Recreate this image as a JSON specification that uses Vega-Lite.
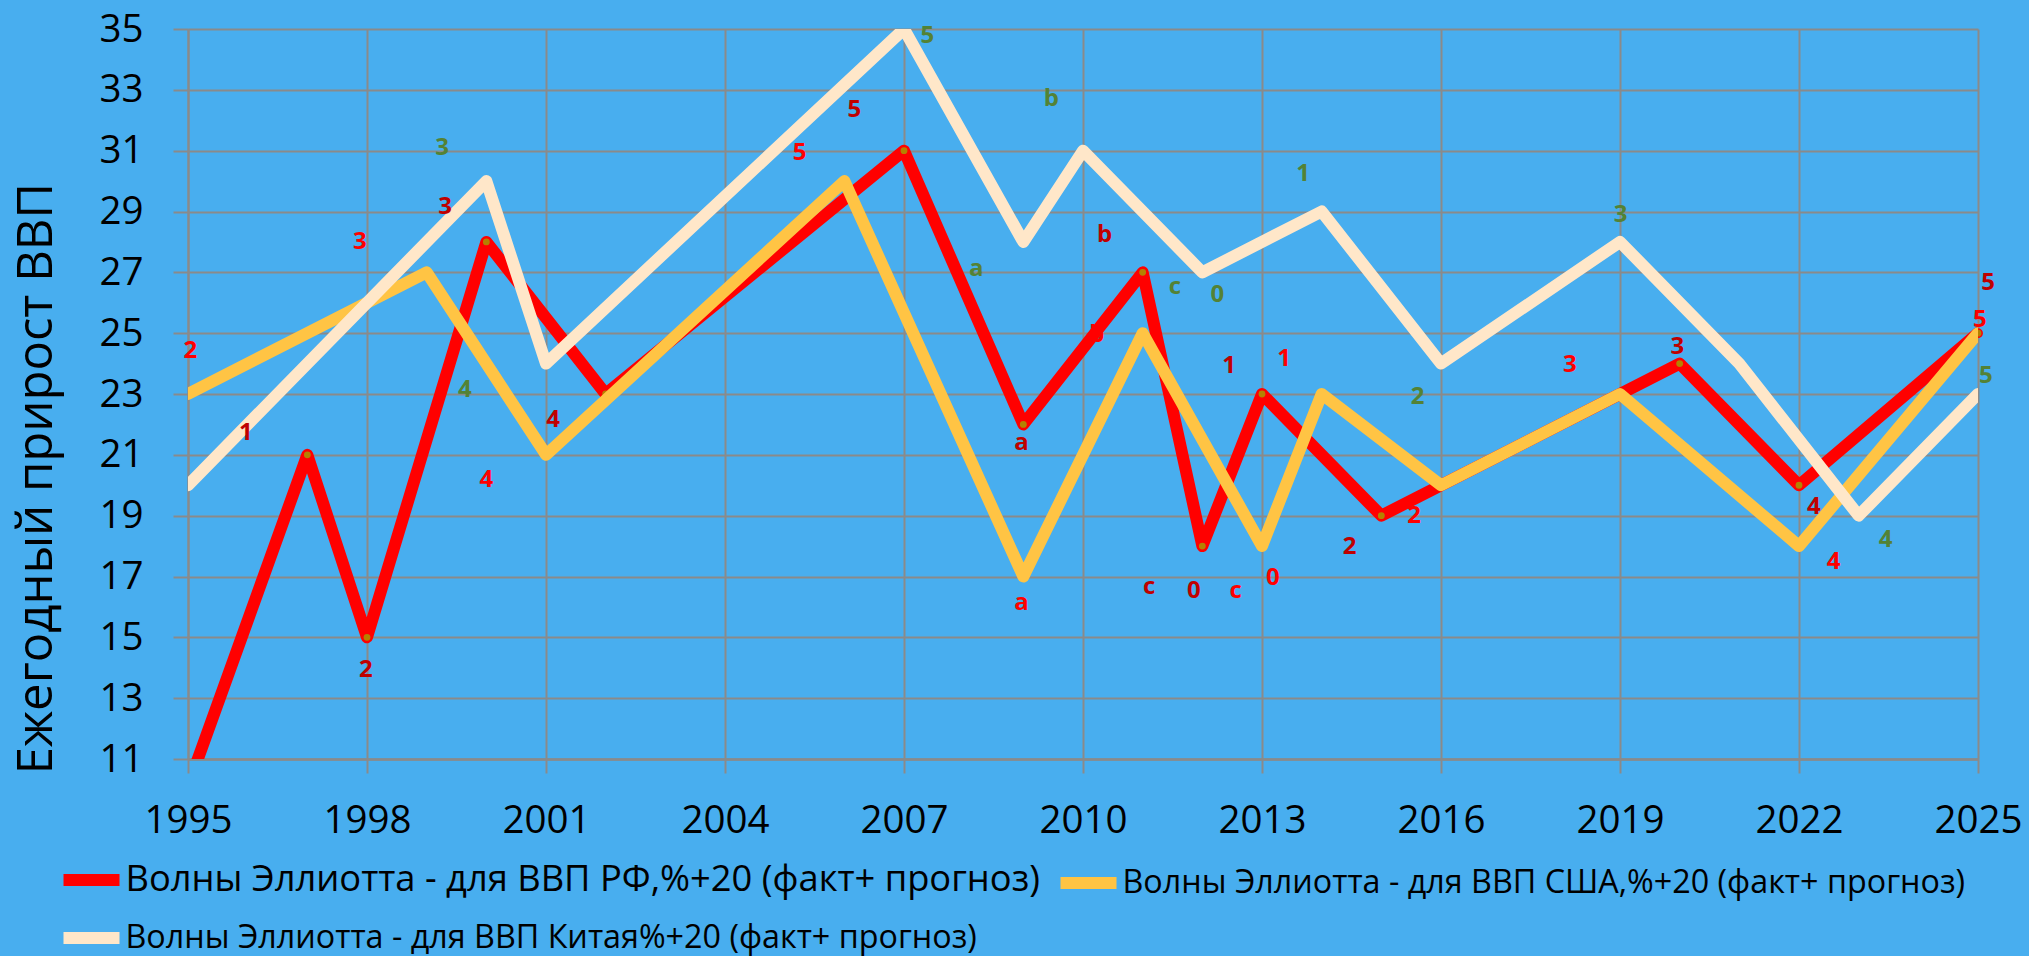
{
  "$schema": "https://vega.github.io/schema/vega-lite/v6.json",
  "width": 1790,
  "height": 730,
  "autosize": {"type": "none"},
  "padding": {"left": 188, "top": 29, "right": 51, "bottom": 197},
  "background": "#48AEEF",
  "config": {
    "view": {"stroke": null},
    "axis": {
      "domainColor": "#8A8A8A", "domainWidth": 2,
      "gridColor": "#8A8A8A", "gridWidth": 2,
      "tickColor": "#8A8A8A", "tickWidth": 2,
      "labelColor": "#000000", "titleColor": "#000000",
      "labelFont": "Open Sans", "titleFont": "Open Sans"
    },
    "legend": {
      "title": null, "orient": "none", "symbolType": "stroke",
      "symbolStrokeWidth": 12, "symbolSize": 3136,
      "labelFont": "Open Sans", "labelColor": "#000000",
      "labelLimit": 2000, "labelOffset": 0, "padding": 0
    }
  },
  "resolve": {"scale": {"color": "independent"}, "legend": {"color": "independent"}},
  "datasets": {
    "lines": [
      {"s": "Волны Эллиотта - для ВВП РФ,%+20 (факт+ прогноз)", "year": 1995, "value": 10.1},
      {"s": "Волны Эллиотта - для ВВП РФ,%+20 (факт+ прогноз)", "year": 1997, "value": 21},
      {"s": "Волны Эллиотта - для ВВП РФ,%+20 (факт+ прогноз)", "year": 1998, "value": 15},
      {"s": "Волны Эллиотта - для ВВП РФ,%+20 (факт+ прогноз)", "year": 2000, "value": 28},
      {"s": "Волны Эллиотта - для ВВП РФ,%+20 (факт+ прогноз)", "year": 2002, "value": 23},
      {"s": "Волны Эллиотта - для ВВП РФ,%+20 (факт+ прогноз)", "year": 2007, "value": 31},
      {"s": "Волны Эллиотта - для ВВП РФ,%+20 (факт+ прогноз)", "year": 2009, "value": 22},
      {"s": "Волны Эллиотта - для ВВП РФ,%+20 (факт+ прогноз)", "year": 2011, "value": 27},
      {"s": "Волны Эллиотта - для ВВП РФ,%+20 (факт+ прогноз)", "year": 2012, "value": 18},
      {"s": "Волны Эллиотта - для ВВП РФ,%+20 (факт+ прогноз)", "year": 2013, "value": 23},
      {"s": "Волны Эллиотта - для ВВП РФ,%+20 (факт+ прогноз)", "year": 2015, "value": 19},
      {"s": "Волны Эллиотта - для ВВП РФ,%+20 (факт+ прогноз)", "year": 2020, "value": 24},
      {"s": "Волны Эллиотта - для ВВП РФ,%+20 (факт+ прогноз)", "year": 2022, "value": 20},
      {"s": "Волны Эллиотта - для ВВП РФ,%+20 (факт+ прогноз)", "year": 2025, "value": 25},
      {"s": "Волны Эллиотта - для ВВП США,%+20 (факт+ прогноз)", "year": 1995, "value": 23},
      {"s": "Волны Эллиотта - для ВВП США,%+20 (факт+ прогноз)", "year": 1999, "value": 27},
      {"s": "Волны Эллиотта - для ВВП США,%+20 (факт+ прогноз)", "year": 2001, "value": 21},
      {"s": "Волны Эллиотта - для ВВП США,%+20 (факт+ прогноз)", "year": 2006, "value": 30},
      {"s": "Волны Эллиотта - для ВВП США,%+20 (факт+ прогноз)", "year": 2009, "value": 17},
      {"s": "Волны Эллиотта - для ВВП США,%+20 (факт+ прогноз)", "year": 2011, "value": 25},
      {"s": "Волны Эллиотта - для ВВП США,%+20 (факт+ прогноз)", "year": 2013, "value": 18},
      {"s": "Волны Эллиотта - для ВВП США,%+20 (факт+ прогноз)", "year": 2014, "value": 23},
      {"s": "Волны Эллиотта - для ВВП США,%+20 (факт+ прогноз)", "year": 2016, "value": 20},
      {"s": "Волны Эллиотта - для ВВП США,%+20 (факт+ прогноз)", "year": 2019, "value": 23},
      {"s": "Волны Эллиотта - для ВВП США,%+20 (факт+ прогноз)", "year": 2022, "value": 18},
      {"s": "Волны Эллиотта - для ВВП США,%+20 (факт+ прогноз)", "year": 2025, "value": 25},
      {"s": "Волны Эллиотта - для ВВП Китая%+20 (факт+ прогноз)", "year": 1995, "value": 20},
      {"s": "Волны Эллиотта - для ВВП Китая%+20 (факт+ прогноз)", "year": 2000, "value": 30},
      {"s": "Волны Эллиотта - для ВВП Китая%+20 (факт+ прогноз)", "year": 2001, "value": 24},
      {"s": "Волны Эллиотта - для ВВП Китая%+20 (факт+ прогноз)", "year": 2007, "value": 35},
      {"s": "Волны Эллиотта - для ВВП Китая%+20 (факт+ прогноз)", "year": 2009, "value": 28},
      {"s": "Волны Эллиотта - для ВВП Китая%+20 (факт+ прогноз)", "year": 2010, "value": 31},
      {"s": "Волны Эллиотта - для ВВП Китая%+20 (факт+ прогноз)", "year": 2012, "value": 27},
      {"s": "Волны Эллиотта - для ВВП Китая%+20 (факт+ прогноз)", "year": 2014, "value": 29},
      {"s": "Волны Эллиотта - для ВВП Китая%+20 (факт+ прогноз)", "year": 2016, "value": 24},
      {"s": "Волны Эллиотта - для ВВП Китая%+20 (факт+ прогноз)", "year": 2019, "value": 28},
      {"s": "Волны Эллиотта - для ВВП Китая%+20 (факт+ прогноз)", "year": 2021, "value": 24},
      {"s": "Волны Эллиотта - для ВВП Китая%+20 (факт+ прогноз)", "year": 2023, "value": 19},
      {"s": "Волны Эллиотта - для ВВП Китая%+20 (факт+ прогноз)", "year": 2025, "value": 23}
    ],
    "labels": [
      {"grp": "RF", "t": "1", "year": 1995.97, "value": 21.71},
      {"grp": "RF", "t": "2", "year": 1997.98, "value": 13.92},
      {"grp": "RF", "t": "3", "year": 1999.31, "value": 29.16},
      {"grp": "RF", "t": "4", "year": 2001.12, "value": 22.15},
      {"grp": "RF", "t": "5", "year": 2006.17, "value": 32.35},
      {"grp": "RF", "t": "a", "year": 2008.97, "value": 21.38},
      {"grp": "RF", "t": "b", "year": 2010.36, "value": 28.23},
      {"grp": "RF", "t": "c", "year": 2011.11, "value": 16.67},
      {"grp": "RF", "t": "0", "year": 2011.86, "value": 16.53},
      {"grp": "RF", "t": "1", "year": 2012.45, "value": 23.92},
      {"grp": "RF", "t": "2", "year": 2014.47, "value": 17.98},
      {"grp": "RF", "t": "3", "year": 2019.96, "value": 24.54},
      {"grp": "RF", "t": "4", "year": 2022.25, "value": 19.27},
      {"grp": "RF", "t": "5", "year": 2025.17, "value": 26.66},
      {"grp": "USA", "t": "2", "year": 1995.04, "value": 24.4},
      {"grp": "USA", "t": "3", "year": 1997.88, "value": 28.0},
      {"grp": "USA", "t": "4", "year": 2000.0, "value": 20.17},
      {"grp": "USA", "t": "5", "year": 2005.25, "value": 30.92},
      {"grp": "USA", "t": "a", "year": 2008.97, "value": 16.12},
      {"grp": "USAb", "t": "b", "year": 2010.23, "value": 24.94},
      {"grp": "USA", "t": "c", "year": 2012.56, "value": 16.53},
      {"grp": "USA", "t": "0", "year": 2013.18, "value": 16.94},
      {"grp": "USA", "t": "1", "year": 2013.37, "value": 24.14},
      {"grp": "USA", "t": "2", "year": 2015.55, "value": 18.99},
      {"grp": "USA", "t": "3", "year": 2018.16, "value": 23.96},
      {"grp": "USA", "t": "4", "year": 2022.58, "value": 17.49},
      {"grp": "USA", "t": "5", "year": 2025.03, "value": 25.44},
      {"grp": "CN", "t": "3", "year": 1999.26, "value": 31.09},
      {"grp": "CN", "t": "4", "year": 1999.64, "value": 23.13},
      {"grp": "CN", "t": "5", "year": 2007.39, "value": 34.78},
      {"grp": "CN", "t": "a", "year": 2008.21, "value": 27.1},
      {"grp": "CN", "t": "b", "year": 2009.47, "value": 32.7},
      {"grp": "CN", "t": "c", "year": 2011.54, "value": 26.51},
      {"grp": "CN", "t": "0", "year": 2012.25, "value": 26.26},
      {"grp": "CN", "t": "1", "year": 2013.69, "value": 30.24},
      {"grp": "CN", "t": "2", "year": 2015.61, "value": 22.89},
      {"grp": "CN", "t": "3", "year": 2019.01, "value": 28.89},
      {"grp": "CN", "t": "4", "year": 2023.45, "value": 18.2},
      {"grp": "CN", "t": "5", "year": 2025.13, "value": 23.6}
    ]
  },
  "encoding": {
    "x": {
      "field": "year", "type": "quantitative",
      "scale": {"domain": [1995, 2025], "nice": false, "zero": false},
      "axis": {
        "values": [1995, 1998, 2001, 2004, 2007, 2010, 2013, 2016, 2019, 2022, 2025],
        "format": "d", "title": null, "grid": true,
        "tickSize": 14, "labelPadding": 29, "labelFontSize": 38.5,
        "labelFlush": false, "labelOverlap": false, "domainWidth": 2.5
      }
    },
    "y": {
      "field": "value", "type": "quantitative",
      "scale": {"domain": [11, 35], "nice": false, "zero": false},
      "axis": {
        "values": [11, 13, 15, 17, 19, 21, 23, 25, 27, 29, 31, 33, 35],
        "title": "Ежегодный прирост ВВП", "grid": true,
        "tickSize": 15, "labelPadding": 30, "labelFontSize": 38.5,
        "titleFontSize": 49, "titleFontWeight": "normal",
        "titleAngle": 270, "titleX": -152, "titleY": 449,
        "titleAlign": "center", "titleBaseline": "middle",
        "labelOverlap": false
      }
    }
  },
  "layer": [
    {
      "data": {"name": "labels"},
      "transform": [{"filter": "datum.grp === 'USAb'"}],
      "mark": {"type": "text", "color": "#FF0000", "font": "Open Sans", "fontWeight": "bold", "fontSize": 24, "align": "center", "baseline": "middle"},
      "encoding": {"text": {"field": "t"}}
    },
    {
      "data": {"name": "lines"},
      "transform": [{"filter": "indexof(datum.s, 'РФ') >= 0"}],
      "mark": {"type": "line", "strokeWidth": 12, "strokeCap": "round", "strokeJoin": "round", "clip": true},
      "encoding": {
        "color": {
          "field": "s", "type": "nominal",
          "scale": {"range": ["#FF0000"]},
          "legend": {"legendX": -130.5, "legendY": 817, "labelFontSize": 36.3}
        }
      }
    },
    {
      "data": {"name": "lines"},
      "transform": [{"filter": "indexof(datum.s, 'РФ') >= 0 && datum.year > 1995"}],
      "mark": {"type": "point", "filled": true, "fill": "#B58100", "stroke": "#FF0000", "strokeWidth": 1.5, "size": 70, "opacity": 1}
    },
    {
      "data": {"name": "lines"},
      "transform": [{"filter": "indexof(datum.s, 'США') >= 0"}],
      "mark": {"type": "line", "strokeWidth": 12, "strokeCap": "round", "strokeJoin": "round", "clip": true},
      "encoding": {
        "color": {
          "field": "s", "type": "nominal",
          "scale": {"range": ["#FFC444"]},
          "legend": {"legendX": 866.5, "legendY": 820, "labelFontSize": 32.3}
        }
      }
    },
    {
      "data": {"name": "lines"},
      "transform": [{"filter": "indexof(datum.s, 'Китая') >= 0"}],
      "mark": {"type": "line", "strokeWidth": 12, "strokeCap": "round", "strokeJoin": "round", "clip": true},
      "encoding": {
        "color": {
          "field": "s", "type": "nominal",
          "scale": {"range": ["#FFE7C9"]},
          "legend": {"legendX": -130.5, "legendY": 875, "labelFontSize": 32.3}
        }
      }
    },
    {
      "data": {"name": "labels"},
      "transform": [{"filter": "datum.grp === 'RF'"}],
      "mark": {"type": "text", "color": "#C00000", "font": "Open Sans", "fontWeight": "bold", "fontSize": 24, "align": "center", "baseline": "middle"},
      "encoding": {"text": {"field": "t"}}
    },
    {
      "data": {"name": "labels"},
      "transform": [{"filter": "datum.grp === 'USA'"}],
      "mark": {"type": "text", "color": "#FF0000", "font": "Open Sans", "fontWeight": "bold", "fontSize": 24, "align": "center", "baseline": "middle"},
      "encoding": {"text": {"field": "t"}}
    },
    {
      "data": {"name": "labels"},
      "transform": [{"filter": "datum.grp === 'CN'"}],
      "mark": {"type": "text", "color": "#548235", "font": "Open Sans", "fontWeight": "bold", "fontSize": 24, "align": "center", "baseline": "middle"},
      "encoding": {"text": {"field": "t"}}
    }
  ]
}
